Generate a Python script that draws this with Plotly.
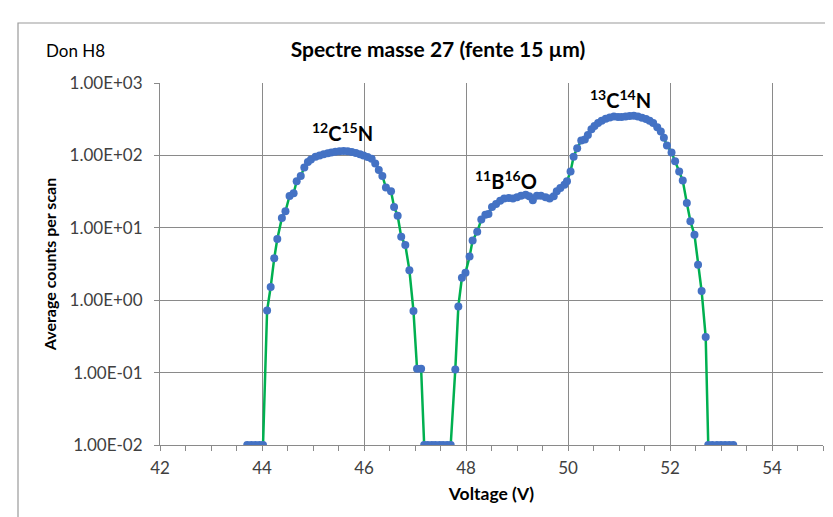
import plotly.graph_objects as go

# Voltage (V)
voltage = [
    43.71, 43.79, 43.87, 43.95, 44.02,
    44.10, 44.17, 44.24, 44.30, 44.39, 44.46, 44.54, 44.62, 44.68, 44.76,
    44.83, 44.90, 44.96, 45.05, 45.13, 45.21, 45.29, 45.36, 45.44, 45.52,
    45.60, 45.68, 45.76, 45.84, 45.92, 45.99, 46.07, 46.15, 46.22, 46.29,
    46.36, 46.43, 46.53, 46.59, 46.66, 46.73, 46.81, 46.89, 46.97, 47.04,
    47.12,
    47.18, 47.25, 47.33, 47.40, 47.48, 47.55, 47.63, 47.70,
    47.79, 47.85, 47.92, 47.99, 48.07, 48.13, 48.22, 48.30, 48.38, 48.44,
    48.51, 48.59, 48.67, 48.75, 48.84, 48.92, 49.00, 49.08, 49.17, 49.24,
    49.31, 49.39, 49.47, 49.56, 49.64, 49.72, 49.78, 49.85, 49.93, 49.98,
    50.05, 50.11, 50.18, 50.26, 50.33, 50.39, 50.46, 50.52, 50.59, 50.66,
    50.74, 50.82, 50.90, 50.98, 51.05, 51.13, 51.21, 51.29, 51.37, 51.45,
    51.53, 51.60, 51.67, 51.75, 51.82, 51.88, 51.94, 52.03, 52.10, 52.18,
    52.25, 52.33, 52.40, 52.48, 52.55, 52.62, 52.70,
    52.75, 52.83, 52.92, 53.00, 53.08, 53.16, 53.24,
]

# Average counts per scan
counts = [
    0.01, 0.01, 0.01, 0.01, 0.01,
    0.72, 1.52, 3.8, 7.0, 13.7, 16.9, 27.5, 30, 44, 52,
    68, 81, 88, 96, 100, 104, 107, 110, 112, 114,
    115, 114, 111, 108, 104, 100, 95, 90, 77, 63,
    52, 36, 32, 19.4, 14.7, 7.5, 5.8, 2.6, 0.71, 0.113,
    0.113,
    0.01, 0.01, 0.01, 0.01, 0.01, 0.01, 0.01, 0.01,
    0.11, 0.82, 2.04, 2.4, 4.0, 6.7, 8.8, 13.0, 15.2, 15.5,
    19.4, 21.4, 23.7, 25.3, 25.8, 25.3, 26.4, 27.8, 28.7, 27.2,
    24, 27.8, 27.8, 26.4, 25.3, 27.2, 32, 35.4, 39.4, 44,
    60, 96, 126, 160, 166, 192, 230, 255, 280, 300,
    320, 335, 344, 340, 338, 345, 351, 352, 345, 332,
    318, 300, 280, 245, 214, 175, 137, 110, 83, 60,
    45, 22, 12.3, 8.0, 3.1, 1.34, 0.31,
    0.01, 0.01, 0.01, 0.01, 0.01, 0.01, 0.01,
]

y_tickvals = [1e-2, 1e-1, 1e0, 1e1, 1e2, 1e3]
y_ticktext = ["1.00E-02", "1.00E-01", "1.00E+00", "1.00E+01", "1.00E+02", "1.00E+03"]
x_tickvals = [42, 44, 46, 48, 50, 52, 54]

peak_labels = ["<sup>12</sup>C<sup>15</sup>N", "<sup>11</sup>B<sup>16</sup>O", "<sup>13</sup>C<sup>14</sup>N"]
peak_x = [45.57, 48.78, 51.02]
peak_logy = [2.32, 1.66, 2.775]

FONT = "Lato, 'Open Sans', sans-serif"
GRID = "#8a8a8a"
TXT = "#404040"

fig = go.Figure()
fig.add_trace(go.Scatter(
    x=voltage, y=counts, mode="lines+markers",
    line=dict(color="#00B050", width=2.5),
    marker=dict(color="#4472C4", size=8),
    showlegend=False,
))

for t, xx, yy in zip(peak_labels, peak_x, peak_logy):
    fig.add_annotation(x=xx, y=yy, xref="x", yref="y", text="<b>" + t + "</b>",
                       showarrow=False, font=dict(family=FONT, size=20, color="#000"))

# Chart border
fig.add_shape(type="rect", xref="paper", yref="paper",
              x0=(10 - 152) / 663, x1=(845 - 152) / 663,
              y0=(437 - 530) / 362, y1=(437 - 15) / 362,
              line=dict(color="#9a9a9a", width=1.2), layer="below")

fig.add_annotation(xref="paper", yref="paper", x=(36 - 152) / 663, y=(437 - 42) / 362,
                   xanchor="left", yanchor="middle", text="Don H8", showarrow=False,
                   font=dict(family=FONT, size=17, color="#000"))

fig.update_layout(
    width=833, height=517, autosize=False,
    margin=dict(l=152, r=18, t=75, b=80),
    paper_bgcolor="white", plot_bgcolor="white",
    font=dict(family=FONT, size=17, color=TXT),
    title=dict(text="<b>Spectre masse 27 (fente 15 µm)</b>", x=(430 - 152) / 663, xref="paper",
               xanchor="center", y=1 - 42 / 517, yanchor="middle",
               font=dict(family=FONT, size=21, color="#000")),
    xaxis=dict(
        range=[42, 55], tickvals=x_tickvals, showgrid=True, gridcolor=GRID, gridwidth=1,
        showline=True, linecolor=GRID, linewidth=1, zeroline=False,
        ticks="outside", ticklen=5, tickcolor=GRID, ticklabelstandoff=3,
        minor=dict(dtick=0.5, ticks="outside", ticklen=5, tickcolor=GRID, showgrid=False),
        tickfont=dict(family=FONT, size=17, color=TXT),
        title=dict(text="<b>Voltage (V)</b>", font=dict(family=FONT, size=17.5, color="#000"), standoff=10),
    ),
    yaxis=dict(
        type="log", range=[-2, 3], tickvals=y_tickvals, ticktext=y_ticktext,
        showgrid=True, gridcolor=GRID, gridwidth=1,
        showline=True, linecolor=GRID, linewidth=1, zeroline=False,
        ticks="outside", ticklen=5, tickcolor=GRID, ticklabelstandoff=8,
        tickfont=dict(family=FONT, size=17, color=TXT),
        title=dict(text="<b>Average counts per scan</b>", font=dict(family=FONT, size=16, color="#000"), standoff=8),
    ),
)

fig.write_html("out.html")
